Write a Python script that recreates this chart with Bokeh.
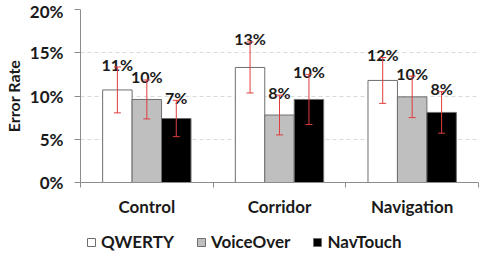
from bokeh.plotting import figure
from bokeh.layouts import column
from bokeh.models import (Range1d, ColumnDataSource, Whisker, TeeHead,
                          NumeralTickFormatter, FixedTicker, Legend, LegendItem,
                          LinearAxis, CustomJSTickFormatter)
from bokeh.core.properties import value
from bokeh.embed import file_html
from bokeh.resources import INLINE

# Error rate per condition and input method (fractions), with error-bar half widths
categories = ["Control", "Corridor", "Navigation"]
methods = ["QWERTY", "VoiceOver", "NavTouch"]
qwerty = [0.107, 0.133, 0.118]
voiceover = [0.096, 0.078, 0.099]
navtouch = [0.074, 0.096, 0.081]
qwerty_err = [0.0265, 0.0295, 0.0265]
voiceover_err = [0.0225, 0.023, 0.024]
navtouch_err = [0.021, 0.029, 0.024]
y_ticks = [0, 0.05, 0.10, 0.15, 0.20]

FONT = "Lato"
AXIS_GRAY = "#8c8c8c"
BAR_EDGE = "#6e6e6e"
ERR_RED = "#e03c3c"
TEXT = "#1a1a1a"
fills = ["#ffffff", "#bfbfbf", "#000000"]
series = [qwerty, voiceover, navtouch]
errors = [qwerty_err, voiceover_err, navtouch_err]

n = len(categories)
centers = [i + 0.5 for i in range(n)]   # each category occupies one unit on x
edges = list(range(n + 1))

p = figure(width=484, height=226, x_range=Range1d(0, n), y_range=Range1d(0, 0.2),
           output_backend="svg", toolbar_location=None, x_axis_location=None,
           min_border_left=74, min_border_right=6, min_border_top=9, min_border_bottom=44)
p.outline_line_color = None

# y axis
p.yaxis.ticker = FixedTicker(ticks=y_ticks)
p.yaxis.formatter = NumeralTickFormatter(format="0%")
p.yaxis.major_tick_in = 0
p.yaxis.major_tick_out = 6
p.yaxis.minor_tick_line_color = None
p.yaxis.axis_line_color = AXIS_GRAY
p.yaxis.major_tick_line_color = AXIS_GRAY
p.yaxis.major_label_text_font = FONT
p.yaxis.major_label_text_font_style = "bold"
p.yaxis.major_label_text_font_size = "17px"
p.yaxis.major_label_text_color = TEXT
p.yaxis.major_label_standoff = 11
p.yaxis.axis_label = "Error Rate"
p.yaxis.axis_label_text_font = FONT
p.yaxis.axis_label_text_font_style = "bold"
p.yaxis.axis_label_text_font_size = "16px"
p.yaxis.axis_label_text_color = TEXT
p.yaxis.axis_label_standoff = 4

p.ygrid.ticker = FixedTicker(ticks=y_ticks[1:])
p.ygrid.grid_line_color = "#d9d9d9"
p.ygrid.grid_line_dash = "4 3"
p.xgrid.visible = False

# x axis: names centred under each group, tick marks at the group boundaries
x_axis = LinearAxis(ticker=FixedTicker(ticks=centers, minor_ticks=edges),
                    formatter=CustomJSTickFormatter(args=dict(names=categories),
                                                    code="return names[Math.floor(tick)];"),
                    axis_line_color=AXIS_GRAY,
                    major_tick_line_color=None, major_tick_in=0, major_tick_out=0,
                    minor_tick_line_color=AXIS_GRAY, minor_tick_in=0, minor_tick_out=5,
                    major_label_text_font=FONT, major_label_text_font_style="bold",
                    major_label_text_font_size="17px", major_label_text_color=TEXT,
                    major_label_standoff=8)
p.add_layout(x_axis, "below")

# legend strip under the chart (its frame lines up with the chart's frame)
lg = figure(width=484, height=30, x_range=Range1d(0, n), y_range=Range1d(1, 2),
            output_backend="svg", toolbar_location=None,
            x_axis_location=None, y_axis_location=None,
            min_border_left=0, min_border_right=0, min_border_top=0, min_border_bottom=0)
lg.outline_line_color = None
lg.grid.visible = False

BAR_W = 0.222
items = []
for i, (name, vals, errs, fill) in enumerate(zip(methods, series, errors, fills)):
    offset = (i - 1) * BAR_W
    src = ColumnDataSource(dict(
        x=[c + offset for c in centers],
        val=vals,
        upper=[v + e for v, e in zip(vals, errs)],
        lower=[v - e for v, e in zip(vals, errs)],
        label=[f"{round(v * 100)}%" for v in vals],
    ))
    p.vbar(x="x", top="val", width=BAR_W, source=src,
           fill_color=fill, line_color=BAR_EDGE, line_width=1)
    p.add_layout(Whisker(base="x", upper="upper", lower="lower", source=src,
                         level="overlay", line_color=ERR_RED, line_width=1,
                         upper_head=TeeHead(size=7, line_color=ERR_RED, line_width=1),
                         lower_head=TeeHead(size=7, line_color=ERR_RED, line_width=1)))
    p.text(x="x", y="upper", text="label", source=src, text_align="center",
           text_baseline="alphabetic", y_offset=-3, text_font=value(FONT),
           text_font_style="bold", text_font_size="16px", text_color=TEXT)
    # same series in the strip, below its visible y window: only the swatch shows
    swatch = lg.vbar(x="x", top="val", width=BAR_W, source=src,
                     fill_color=fill, line_color=BAR_EDGE, line_width=1)
    items.append(LegendItem(label=name, renderers=[swatch]))

legend = Legend(items=items, orientation="horizontal", location=(6, 4),
                glyph_width=10, glyph_height=10, label_standoff=5, spacing=22,
                padding=2, margin=0, border_line_color=None, background_fill_alpha=0,
                label_text_font=FONT, label_text_font_style="bold",
                label_text_font_size="17px", label_text_color=TEXT)
lg.add_layout(legend, "center")

open("out.html", "w").write(file_html(column(p, lg, spacing=0), INLINE))
